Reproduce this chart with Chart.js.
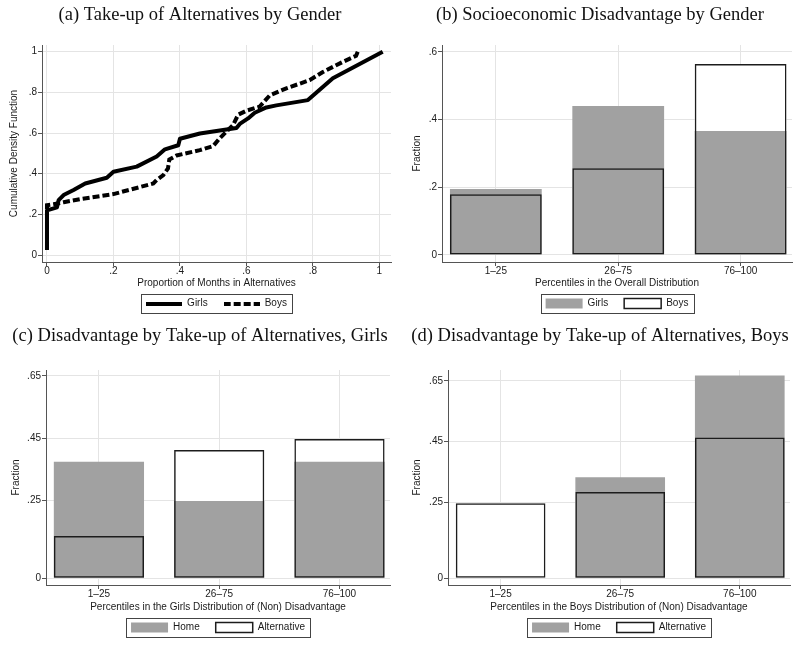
<!DOCTYPE html>
<html lang="en">
<head>
<meta charset="UTF-8">
<title>Take-up of Alternatives and Disadvantage</title>
<script src="https://cdn.jsdelivr.net/npm/chart.js"></script>
<style>
  body { margin: 0; background: #fff; }
  canvas { position: absolute; }
  #chartA { left: 0; top: 0; }
  #chartB { left: 400px; top: 0; }
  #chartC { left: 0; top: 320px; }
  #chartD { left: 400px; top: 320px; }
</style>
</head>
<body>

<canvas id="chartA" width="400" height="320"></canvas>
<canvas id="chartB" width="400" height="320"></canvas>
<canvas id="chartC" width="400" height="327"></canvas>
<canvas id="chartD" width="400" height="327"></canvas>

<script>
  // (a) cumulative distribution of the share of months spent in alternatives
  const girlsCdfX = [0, 0, 0.03, 0.035, 0.05, 0.08, 0.115, 0.18, 0.2, 0.27, 0.33, 0.355, 0.395, 0.4, 0.46, 0.54, 0.57, 0.58, 0.605, 0.625, 0.66, 0.69, 0.785, 0.86, 1.01];
  const girlsCdfY = [0.025, 0.22, 0.235, 0.27, 0.295, 0.32, 0.352, 0.38, 0.41, 0.435, 0.485, 0.52, 0.54, 0.572, 0.598, 0.618, 0.625, 0.645, 0.672, 0.7, 0.726, 0.736, 0.762, 0.87, 1.0];
  const boysCdfX = [0, 0, 0.02, 0.05, 0.1, 0.2, 0.32, 0.33, 0.35, 0.364, 0.368, 0.39, 0.46, 0.5, 0.52, 0.56, 0.575, 0.6, 0.64, 0.67, 0.72, 0.79, 0.83, 0.89, 0.93, 0.935];
  const boysCdfY = [0.03, 0.245, 0.25, 0.26, 0.275, 0.3, 0.352, 0.369, 0.393, 0.426, 0.47, 0.49, 0.516, 0.536, 0.575, 0.64, 0.69, 0.71, 0.73, 0.785, 0.82, 0.86, 0.9, 0.95, 0.98, 1.0];
  const cdfXTicks = [0, 0.2, 0.4, 0.6, 0.8, 1];
  const cdfYTicks = [0, 0.2, 0.4, 0.6, 0.8, 1];

  // (b)-(d) fractions by percentile group
  const percentileGroups = ['1–25', '26–75', '76–100'];
  const girlsShare = [0.195, 0.44, 0.366];
  const boysShare = [0.179, 0.256, 0.564];
  const girlsHome = [0.374, 0.248, 0.374];
  const girlsAlternative = [0.136, 0.412, 0.447];
  const boysHome = [0, 0.333, 0.668];
  const boysAlternative = [0.247, 0.284, 0.464];
  const fractionTicksB = [0, 0.2, 0.4, 0.6];
  const fractionTicksCD = [0, 0.25, 0.45, 0.65];

  Chart.defaults.font.family = "'Liberation Sans', Arial, sans-serif";
  Chart.defaults.color = '#1a1a1a';

  const smallFont = { family: "'Liberation Sans', Arial, sans-serif", size: 10, lineHeight: 1 };
  const greyFill = '#a1a1a1';
  const outline = '#1c1c1c';

  // stata style: .2 instead of 0.2
  const stataNum = v => v === 0 ? '0' : String(+v.toFixed(2)).replace(/^0\./, '.');

  // legend sample for the line series (legend point styles ignore borderDash)
  function lineSwatch(dash) {
    const c = document.createElement('canvas');
    c.width = 36;
    c.height = 4;
    const g = c.getContext('2d');
    g.strokeStyle = '#000';
    g.lineWidth = 4;
    g.setLineDash(dash);
    g.beginPath();
    g.moveTo(0, 2);
    g.lineTo(36, 2);
    g.stroke();
    return c;
  }

  // box around the legend, like stata draws it
  const legendFrame = {
    id: 'legendFrame',
    afterDraw(chart) {
      const boxes = chart.legend && chart.legend.legendHitBoxes;
      if (!boxes || !boxes.length) return;
      const left = Math.min(...boxes.map(b => b.left)) - 5;
      const right = Math.max(...boxes.map(b => b.left + b.width)) + 5;
      const top = boxes[0].top - 4.5;
      const ctx = chart.ctx;
      ctx.save();
      ctx.strokeStyle = '#444';
      ctx.lineWidth = 1;
      ctx.strokeRect(Math.round(left) + 0.5, Math.round(top) + 0.5, Math.round(right - left), boxes[0].height + 9);
      ctx.restore();
    }
  };

  function axis(o) {
    return {
      type: 'linear',
      position: o.position,
      min: o.min,
      max: o.max,
      offset: false,
      grid: { color: '#e4e4e4', lineWidth: 1, offset: false, drawTicks: true, tickLength: 4, tickColor: '#555' },
      border: { display: true, color: '#555', width: 1 },
      ticks: { font: smallFont, color: '#1a1a1a', padding: o.tickPad, autoSkip: false, maxRotation: 0, callback: o.label },
      afterBuildTicks: scale => { scale.ticks = o.ticks.map(v => ({ value: v })); },
      afterFit: scale => {
        if (o.position === 'left') scale.width = o.size; else scale.height = o.size;
      },
      title: { display: true, text: o.title, font: smallFont, color: '#1a1a1a', padding: o.titlePad }
    };
  }

  function panelTitle(text, top, bottom) {
    return {
      display: true,
      text: text,
      color: '#111',
      font: { family: "'Liberation Serif', 'Times New Roman', serif", size: 18.5, weight: 'normal', lineHeight: 1.2 },
      padding: { top: top, bottom: bottom }
    };
  }

  // (a) line chart
  new Chart(document.getElementById('chartA'), {
    type: 'line',
    data: {
      datasets: [{
        label: 'Girls',
        data: girlsCdfX.map((x, i) => ({ x: x, y: girlsCdfY[i] })),
        borderColor: '#000',
        backgroundColor: '#000',
        borderWidth: 4,
        borderJoinStyle: 'round',
        pointRadius: 0,
        pointStyle: lineSwatch([]),
        tension: 0
      }, {
        label: 'Boys',
        data: boysCdfX.map((x, i) => ({ x: x, y: boysCdfY[i] })),
        borderColor: '#000',
        backgroundColor: '#000',
        borderWidth: 4,
        borderDash: [7, 3],
        pointRadius: 0,
        pointStyle: lineSwatch([7, 3]),
        tension: 0
      }]
    },
    options: {
      responsive: false,
      animation: false,
      layout: { padding: { left: 9, right: 9, top: 0, bottom: 1.5 } },
      plugins: {
        title: panelTitle('(a) Take-up of Alternatives by Gender', 4.5, 18.3),
        legend: {
          position: 'bottom',
          fullSize: false,
          labels: { usePointStyle: true, pointStyleWidth: 36, boxHeight: 10, padding: 16, font: smallFont, color: '#1a1a1a' }
        },
        tooltip: { enabled: false }
      },
      scales: {
        x: axis({ position: 'bottom', min: -0.015, max: 1.035, ticks: cdfXTicks, label: stataNum, tickPad: 0, size: 20.5,
                  title: 'Proportion of Months in Alternatives', titlePad: { top: 0, bottom: -5.5 } }),
        y: axis({ position: 'left', min: -0.034, max: 1.033, ticks: cdfYTicks, label: stataNum, tickPad: 1, size: 33,
                  title: 'Cumulative Density Function', titlePad: { top: 0.5, bottom: 0 } })
      }
    },
    plugins: [legendFrame]
  });

  // (b)-(d) overlaid bars: grey filled series, open series drawn as white box + outline on top
  function barPanel(id, o) {
    const pts = vals => vals.map((v, i) => ({ x: i + 1, y: v }));
    return new Chart(document.getElementById(id), {
      type: 'bar',
      data: {
        datasets: [
          { label: o.greyLabel, data: pts(o.grey), backgroundColor: greyFill, borderWidth: 0, order: 2 },
          { label: o.openLabel, data: pts(o.open), backgroundColor: 'rgba(0,0,0,0)', borderColor: outline, borderWidth: 1.5, borderSkipped: false, order: 1 },
          { label: o.openLabel, data: pts(o.open), backgroundColor: '#fff', borderWidth: 0, order: 3, inLegend: false }
        ]
      },
      options: {
        responsive: false,
        animation: false,
        layout: { padding: o.pad },
        datasets: { bar: { grouped: false, barPercentage: 0.75, categoryPercentage: 1 } },
        plugins: {
          title: panelTitle(o.title, o.titleTop, o.titleBottom),
          legend: {
            position: 'bottom',
            fullSize: false,
            labels: {
              boxWidth: 37, boxHeight: 10, padding: 16, font: smallFont, color: '#1a1a1a',
              filter: (item, data) => data.datasets[item.datasetIndex].inLegend !== false,
              sort: (a, b) => a.datasetIndex - b.datasetIndex
            }
          },
          tooltip: { enabled: false }
        },
        scales: {
          x: axis({ position: 'bottom', min: 0.56, max: 3.42, ticks: [1, 2, 3], label: v => percentileGroups[v - 1], tickPad: 0,
                    size: o.xSize, title: o.xTitle, titlePad: { top: 0, bottom: -5.5 } }),
          y: axis({ position: 'left', min: o.yMin, max: o.yMax, ticks: o.yTicks, label: stataNum, tickPad: 1,
                    size: o.ySize, title: 'Fraction', titlePad: { top: o.yTitlePad, bottom: 0 } })
        }
      },
      plugins: [legendFrame]
    });
  }

  barPanel('chartB', {
    title: '(b) Socioeconomic Disadvantage by Gender', titleTop: 4.5, titleBottom: 18.3,
    greyLabel: 'Girls', grey: girlsShare, openLabel: 'Boys', open: boysShare,
    xTitle: 'Percentiles in the Overall Distribution', xSize: 20.5,
    yMin: -0.0207, yMax: 0.62, yTicks: fractionTicksB, ySize: 34, yTitlePad: 4,
    pad: { left: 8, right: 8, top: 0, bottom: 1.5 }
  });

  barPanel('chartC', {
    title: '(c) Disadvantage by Take-up of Alternatives, Girls', titleTop: 5.5, titleBottom: 22.3,
    greyLabel: 'Home', grey: girlsHome, openLabel: 'Alternative', open: girlsAlternative,
    xTitle: 'Percentiles in the Girls Distribution of (Non) Disadvantage', xSize: 21.5,
    yMin: -0.0215, yMax: 0.669, yTicks: fractionTicksCD, ySize: 36, yTitlePad: 1,
    pad: { left: 10, right: 10, top: 0, bottom: 4.5 }
  });

  barPanel('chartD', {
    title: '(d) Disadvantage by Take-up of Alternatives, Boys', titleTop: 5.5, titleBottom: 22.3,
    greyLabel: 'Home', grey: boysHome, openLabel: 'Alternative', open: boysAlternative,
    xTitle: 'Percentiles in the Boys Distribution of (Non) Disadvantage', xSize: 21.5,
    yMin: -0.022, yMax: 0.686, yTicks: fractionTicksCD, ySize: 38, yTitlePad: 2,
    pad: { left: 10, right: 10, top: 0, bottom: 4.5 }
  });
</script>

</body>
</html>
